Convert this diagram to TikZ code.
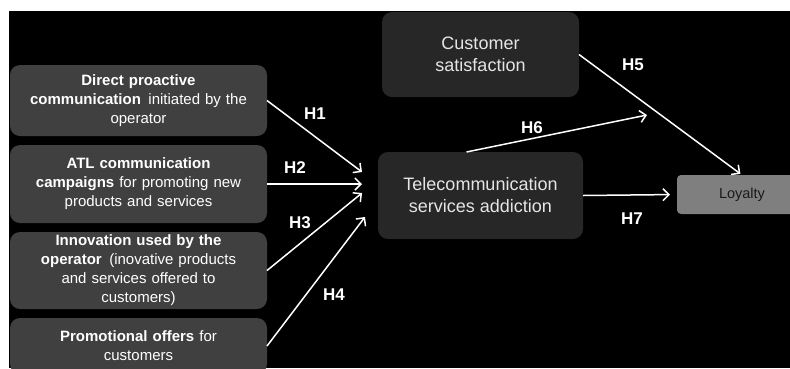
\documentclass[tikz,border=0pt]{standalone}
\usepackage{fontspec}
\setmainfont{Liberation Sans}
\usetikzlibrary{arrows.meta, positioning, calc}
\definecolor{boxgrey}{HTML}{404040}
\definecolor{boxdark}{HTML}{272727}
\definecolor{loygrey}{HTML}{7F7F7F}
\definecolor{loytext}{HTML}{1A1A1A}

\begin{document}
\begin{tikzpicture}[
    x=1pt, y=-1pt,
    node distance=9pt,
    driver/.style={rectangle, fill=boxgrey, text=white, minimum width=257pt, text width=245pt, align=center, rounded corners=10pt, inner sep=0pt, outer sep=0pt, font=\fontsize{15}{19}\selectfont},
    outcome/.style={rectangle, fill=boxdark, text=white!90!black, align=center, rounded corners=10pt, inner sep=0pt, outer sep=0pt, font=\fontsize{18}{22}\selectfont},
    loyal/.style={rectangle, fill=loygrey, text=loytext, align=center, rounded corners=4pt, inner sep=0pt, outer sep=0pt, minimum width=130pt, minimum height=39pt, font=\fontsize{14.5}{17}\selectfont},
    hyp/.style={-{Straight Barb[length=6pt, width=12pt]}, white, line width=1.5pt},
    hlabel/.style={text=white, font=\fontsize{17}{20}\selectfont\bfseries, inner sep=0pt}
]

\clip (0,0) rectangle (790,368);
\fill[white] (0,0) rectangle (790,368);
\fill[black] (9,11) rectangle (790,368);

% drivers
\node[driver, minimum height=71pt] (b1) at (138.5,100.5) {\textbf{Direct proactive}\\ \textbf{communication}\, initiated by the\\ operator};
\node[driver, minimum height=78pt, below=of b1] (b2) {\textbf{ATL communication}\\ \textbf{campaigns} for promoting new\\ products and services};
\node[driver, minimum height=77pt, below=of b2] (b3) {\textbf{Innovation used by the}\\ \textbf{operator}\, (inovative products\\ and services offered to\\ customers)};
\node[driver, minimum height=56pt, below=of b3] (b4) {\textbf{Promotional offers} for\\ customers};

% outcomes
\node[outcome, minimum width=197pt, minimum height=85pt] (cs) at (480.5,54.5) {Customer\\ satisfaction};
\node[outcome, minimum width=205pt, minimum height=87pt] (tsa) at (480.5,195.5) {Telecommunication\\ services addiction};
\node[loyal] (loy) at (742,194.5) {Loyalty};

\coordinate (e1) at (362,172);
\coordinate (e2) at (362,184);
\coordinate (e3) at (362,193);
\coordinate (e4) at (365,217);
\coordinate (e6) at (647,115);

\draw[hyp] (b1.east) -- (e1);
\draw[hyp] (b2.east) -- (e2);
\draw[hyp] (b3.east) -- (e3);
\draw[hyp] (b4.east) -- (e4);
\draw[hyp] ([xshift=-14pt]tsa.north) -- (e6);
\draw[hyp, shorten >=2pt] (cs.east) -- (loy.north);
\draw[hyp, shorten >=7pt] (tsa.east) -- (loy.west);

\node[hlabel] (l1) at (315,114) {H1};
\node[hlabel] (l2) at (295,168) {H2};
\node[hlabel] (l3) at (300,223) {H3};
\node[hlabel] (l4) at (334,295) {H4};
\node[hlabel] (l5) at (633,65) {H5};
\node[hlabel] (l6) at (532,128) {H6};
\node[hlabel] (l7) at (632,219) {H7};

\end{tikzpicture}
\end{document}
